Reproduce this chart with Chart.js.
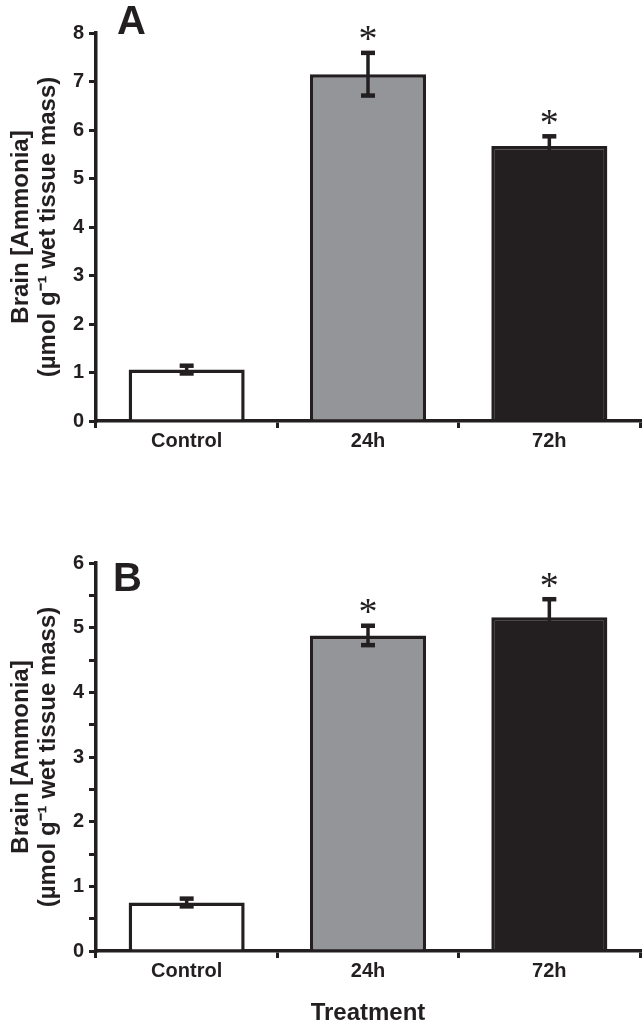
<!DOCTYPE html>
<html>
<head>
<meta charset="utf-8">
<script src="https://cdn.jsdelivr.net/npm/chart.js@4.4.1/dist/chart.umd.min.js"></script>
<style>
  html, body { margin: 0; padding: 0; background: #fff; }
  body { width: 644px; height: 1030px; position: relative; overflow: hidden; }
  .panel { position: absolute; left: 0; width: 644px; }
  #panelA { top: 0; height: 480px; }
  #panelB { top: 530px; height: 500px; }
</style>
</head>
<body>
<div class="panel" id="panelA"><canvas id="chartA"></canvas></div>
<div class="panel" id="panelB"><canvas id="chartB"></canvas></div>
<script>
// values (mean and error)
const categories = ['Control', '24h', '72h'];
const ammoniaA = [1.06, 7.15, 5.67];
const errA = [0.08, 0.44, 0.20];
const ammoniaB = [0.75, 4.88, 5.16];
const errB = [0.06, 0.15, 0.28];
const significant = [false, true, true];
const yMaxA = 8;
const yMaxB = 6;

const ink = '#231f20';
const barFill = ['#ffffff', '#939598', '#231f20'];
const family = '"Liberation Sans", Arial, sans-serif';

// error bars + asterisks drawn from the data through the scales
const errorBars = {
  id: 'errorBars',
  afterDatasetsDraw(chart, args, opts) {
    const { ctx, scales: { x, y } } = chart;
    const vals = chart.data.datasets[0].data;
    ctx.save();
    ctx.strokeStyle = ink;
    ctx.fillStyle = ink;
    vals.forEach((v, i) => {
      const px = x.getPixelForValue(i);
      const top = y.getPixelForValue(v + opts.err[i]);
      const bot = y.getPixelForValue(v - opts.err[i]);
      ctx.lineWidth = 3.5;
      ctx.beginPath();
      ctx.moveTo(px, top);
      ctx.lineTo(px, bot);
      ctx.stroke();
      ctx.lineWidth = 4.5;
      [top, bot].forEach(yy => {
        ctx.beginPath();
        ctx.moveTo(px - 7, yy);
        ctx.lineTo(px + 7, yy);
        ctx.stroke();
      });
      if (opts.stars[i]) {
        ctx.font = '38px "Liberation Serif", serif';
        ctx.textAlign = 'center';
        ctx.textBaseline = 'alphabetic';
        const m = ctx.measureText('*');
        const cy = top - 19;
        ctx.fillText('*', px, cy + (m.actualBoundingBoxAscent - m.actualBoundingBoxDescent) / 2);
      }
    });
    ctx.restore();
  }
};

const panelLetter = {
  id: 'panelLetter',
  afterDraw(chart, args, opts) {
    const { ctx } = chart;
    ctx.save();
    ctx.font = 'bold 40px ' + family;
    ctx.fillStyle = ink;
    ctx.textAlign = 'left';
    ctx.textBaseline = 'alphabetic';
    ctx.fillText(opts.text, opts.x, opts.y);
    ctx.restore();
  }
};

function makeChart(id, values, err, yMax, letter, letterPos, xHeight, xTitle) {
  return new Chart(document.getElementById(id), {
    type: 'bar',
    data: {
      labels: categories,
      datasets: [{
        data: values,
        backgroundColor: barFill,
        borderColor: ink,
        borderWidth: 3.5,
        barPercentage: 0.64,
        categoryPercentage: 1
      }]
    },
    options: {
      responsive: true,
      maintainAspectRatio: false,
      animation: false,
      devicePixelRatio: 1,
      layout: { padding: { top: 33, right: 4, left: 0, bottom: 0 } },
      plugins: {
        legend: { display: false },
        tooltip: { enabled: false },
        errorBars: { err: err, stars: significant },
        panelLetter: { text: letter, x: letterPos[0], y: letterPos[1] }
      },
      scales: {
        x: {
          grid: { offset: true, drawOnChartArea: false, tickLength: 7, lineWidth: 3, color: ink },
          border: { display: true, width: 3.5, color: ink },
          ticks: { color: ink, padding: 1, font: { family, size: 20, weight: 'bold' } },
          title: {
            display: !!xTitle,
            text: xTitle || '',
            color: ink,
            font: { family, size: 24, weight: 'bold' },
            padding: { top: 0, bottom: 2 }
          },
          afterFit(scale) { scale.height = xHeight; }
        },
        y: {
          min: 0,
          max: yMax,
          grid: { drawOnChartArea: false, tickLength: 7, lineWidth: 3, color: ink },
          border: { display: true, width: 3.5, color: ink },
          ticks: {
            stepSize: 0.5,
            color: ink,
            padding: 5,
            font: { family, size: 20, weight: 'bold' },
            callback: v => (Number.isInteger(v) ? v : '')
          },
          title: {
            display: true,
            text: ['Brain [Ammonia]', '(\u00b5mol g\u207b\u00b9 wet tissue mass)'],
            color: ink,
            font: { family, size: 24, weight: 'bold', lineHeight: 1.125 },
            padding: { top: 8, bottom: 0 }
          },
          afterFit(scale) { scale.width = 96; }
        }
      }
    },
    plugins: [errorBars, panelLetter]
  });
}

makeChart('chartA', ammoniaA, errA, yMaxA, 'A', [117, 34], 59, null);
makeChart('chartB', ammoniaB, errB, yMaxB, 'B', [113, 61], 79, 'Treatment');
</script>
</body>
</html>
